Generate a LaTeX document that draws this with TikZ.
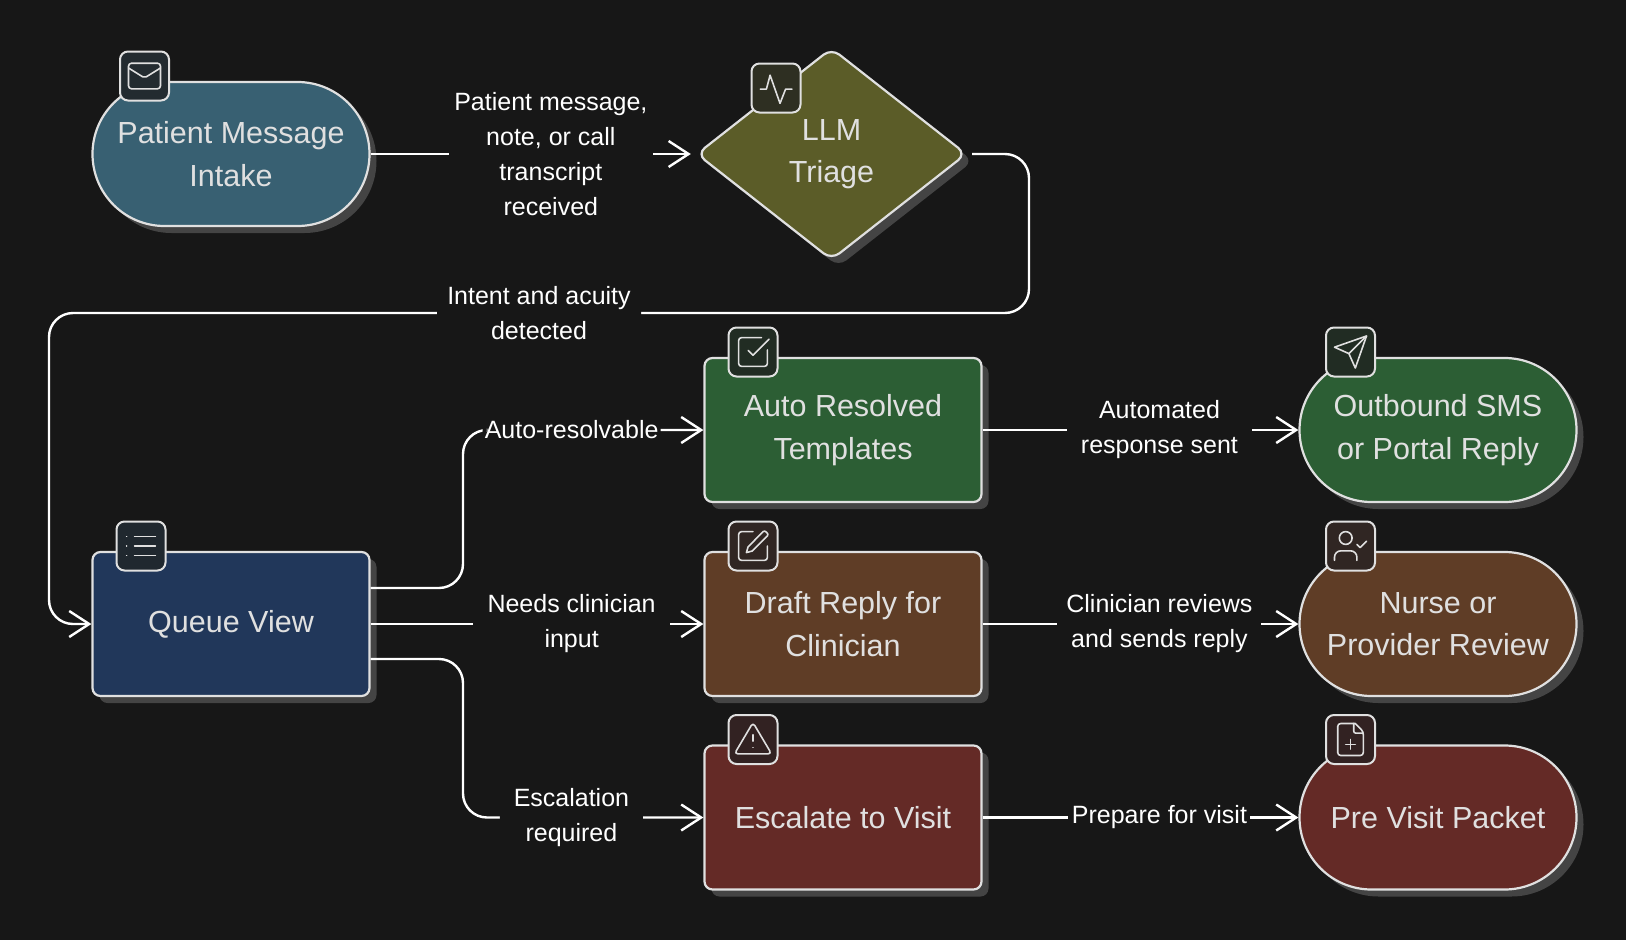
\documentclass[tikz,border=0pt]{standalone}
\usepackage{fontspec}
\setmainfont{Liberation Sans}
\usetikzlibrary{arrows.meta,shapes.geometric,shadows}
\definecolor{bgdark}{HTML}{171717}
\definecolor{shadowgray}{HTML}{444444}
\definecolor{outline}{HTML}{E0E0E0}
\definecolor{tealfill}{HTML}{386072}
\definecolor{olivefill}{HTML}{5B5C28}
\definecolor{greenfill}{HTML}{2C5E34}
\definecolor{navyfill}{HTML}{21375A}
\definecolor{brownfill}{HTML}{5F3D26}
\definecolor{redfill}{HTML}{642A26}
\definecolor{tealicon}{HTML}{232B30}
\definecolor{oliveicon}{HTML}{2E2F22}
\definecolor{greenicon}{HTML}{212C23}
\definecolor{navyicon}{HTML}{20282F}
\definecolor{brownicon}{HTML}{302623}
\definecolor{redicon}{HTML}{322222}
\tikzset{
  boxbase/.style={draw=outline,line width=2.2pt,text=outline,align=center,inner sep=0pt,
    font=\fontsize{30.5}{42.5}\selectfont,
    drop shadow={shadow xshift=7pt,shadow yshift=-7pt,fill=shadowgray,opacity=1}},
  flowbox/.style={boxbase,rectangle,rounded corners=8pt,minimum width=277pt,minimum height=144pt,fill=#1},
  pillbox/.style={boxbase,rectangle,rounded corners=72pt,minimum width=277pt,minimum height=144pt,fill=#1},
  decisionbox/.style={boxbase,diamond,rounded corners=10pt,aspect=1.27,minimum width=270pt,minimum height=212pt,fill=#1},
  iconbox/.style={draw=outline,line width=2pt,rectangle,rounded corners=8pt,minimum size=49pt,inner sep=0pt,fill=#1},
  edgetext/.style={fill=bgdark,text=white,align=center,inner xsep=0pt,inner ysep=1pt,font=\fontsize{25}{35}\selectfont},
  iconscope/.style={x=1.6pt,y=-1.6pt,shift={(#1.center)},shift={(-12,-12)},draw=outline,line width=1.6pt,line cap=round,line join=round}
}
\begin{document}
\begin{tikzpicture}[x=1pt,y=-1pt,>={Straight Barb[length=20pt,width=26pt]},line width=2.4pt]
\fill[bgdark] (0,0) rectangle (1626,940);
\useasboundingbox (0,0) rectangle (1626,940);

\node[pillbox=tealfill] (intake) at (231,154) {Patient Message\\Intake};
\node[decisionbox=olivefill,node distance=600.5pt,right of=intake] (triage) {LLM\\Triage};
\node[flowbox=navyfill] (queue) at (231,624) {Queue View};
\node[flowbox=brownfill,node distance=612pt,right of=queue] (draft) {Draft Reply for\\Clinician};
\node[flowbox=greenfill,node distance=194pt,above of=draft] (autores) {Auto Resolved\\Templates};
\node[flowbox=redfill,node distance=193.5pt,below of=draft] (escalate) {Escalate to Visit};
\node[pillbox=greenfill,node distance=595pt,right of=autores] (outbound) {Outbound SMS\\or Portal Reply};
\node[pillbox=brownfill,node distance=595pt,right of=draft] (review) {Nurse or\\Provider Review};
\node[pillbox=redfill,node distance=595pt,right of=escalate] (packet) {Pre Visit Packet};

\node[iconbox=tealicon] (intakeicon) at ([shift={(-86.5,-78)}]intake.center) {};
\node[iconbox=oliveicon] (triageicon) at ([shift={(-55.5,-66)}]triage.center) {};
\node[iconbox=navyicon] (queueicon) at ([shift={(-90,-78)}]queue.center) {};
\node[iconbox=greenicon] (autoresicon) at ([shift={(-90,-78)}]autores.center) {};
\node[iconbox=brownicon] (drafticon) at ([shift={(-90,-78)}]draft.center) {};
\node[iconbox=redicon] (escalateicon) at ([shift={(-90,-78)}]escalate.center) {};
\node[iconbox=greenicon] (outboundicon) at ([shift={(-87.5,-78)}]outbound.center) {};
\node[iconbox=brownicon] (reviewicon) at ([shift={(-87.5,-78)}]review.center) {};
\node[iconbox=redicon] (packeticon) at ([shift={(-87.5,-78)}]packet.center) {};

\begin{scope}[iconscope=intakeicon]
\draw[rounded corners=3pt] (2,4) rectangle (22,20);
\draw[rounded corners=2pt] (22,7) -- (12,13.2) -- (2,7);
\end{scope}
\begin{scope}[iconscope=triageicon]
\draw (2.2,12.7) -- (6,12.7) -- (8.3,4) -- (14.5,21.6) -- (18,12.7) -- (22,12.7);
\end{scope}
\begin{scope}[iconscope=queueicon]
\draw (8,6) -- (21,6) (8,12) -- (21,12) (8,18) -- (21,18);
\draw (3,6) -- (3.01,6) (3,12) -- (3.01,12) (3,18) -- (3.01,18);
\end{scope}
\begin{scope}[iconscope=autoresicon]
\draw[rounded corners=3pt] (17.3,3) -- (3,3) -- (3,21) -- (21,21) -- (21,10.7);
\draw (9,11) -- (12,14) -- (22,4);
\end{scope}
\begin{scope}[iconscope=drafticon]
\draw[rounded corners=3pt] (12,3) -- (3,3) -- (3,21) -- (21,21) -- (21,12);
\draw (7.9,16.1) -- (8.9,12.6) -- (18.4,2.9) .. controls (19.5,1.9) and (22.1,4.5) .. (21.1,5.6) -- (11.6,15.1) -- cycle;
\end{scope}
\begin{scope}[iconscope=escalateicon]
\draw[rounded corners=3.5pt] (12,1.4) -- (23.6,21) -- (0.4,21) -- cycle;
\draw (12,9) -- (12,13) (12,17) -- (12.01,17);
\end{scope}
\begin{scope}[iconscope=outboundicon]
\draw (22,2) -- (15,22) -- (11,13) -- (2,9) -- cycle;
\draw (22,2) -- (11,13);
\end{scope}
\begin{scope}[iconscope=reviewicon]
\draw (9,7) circle[radius=4];
\draw (16,21) -- (16,19) .. controls (16,16.8) and (14.2,15) .. (12,15) -- (6,15) .. controls (3.8,15) and (2,16.8) .. (2,19) -- (2,21);
\draw (16,11) -- (18,13) -- (22,9);
\end{scope}
\begin{scope}[iconscope=packeticon]
\draw[rounded corners=3pt] (15,2) -- (4,2) -- (4,22) -- (20,22) -- (20,7) [sharp corners] -- (15,2);
\draw[rounded corners=2pt] (14,2) -- (14,8) -- (20,8);
\draw (9,15) -- (15,15) (12,18) -- (12,12);
\end{scope}

\coordinate (loopright) at (1029,313);
\coordinate (loopleft) at (49,313);
\coordinate (queueup) at ([yshift=36pt]queue.east);
\coordinate (queuedown) at ([yshift=-35pt]queue.east);
\coordinate (trunkup) at (463,430);
\coordinate (trunkdown) at (463,817.5);

\draw[draw=white,->,shorten >=4.6pt] (intake) -- node[edgetext,minimum width=204pt,pos=.555] (msglabel) {Patient message,\\note, or call\\transcript\\received} (triage);
\draw[draw=white,->,rounded corners=24pt,shorten <=4.6pt] (triage.east) -| (loopright) -- node[edgetext,minimum width=204pt] (intentlabel) {Intent and acuity\\detected} (loopleft) |- (queue.west);
\draw[draw=white,->,rounded corners=24pt] (queueup) -| (trunkup) -- node[edgetext,minimum width=178pt,pos=.452] (autolabel) {Auto-resolvable} (autores.west);
\draw[draw=white,->] (queue) -- node[edgetext,minimum width=197pt,pos=.604] (needslabel) {Needs clinician\\input} (draft);
\draw[draw=white,->,rounded corners=24pt] (queuedown) -| (trunkdown) -- node[edgetext,minimum width=143pt,pos=.451] (escalatelabel) {Escalation\\required} (escalate.west);
\draw[draw=white,->] (autores) -- node[edgetext,minimum width=185pt,pos=.56] (sentlabel) {Automated\\response sent} (outbound);
\draw[draw=white,->] (draft) -- node[edgetext,minimum width=204pt,pos=.56] (reviewlabel) {Clinician reviews\\and sends reply} (review);
\draw[draw=white,->] (escalate) -- node[edgetext,minimum width=182pt,pos=.56] (visitlabel) {Prepare for visit} (packet);
\end{tikzpicture}
\end{document}
